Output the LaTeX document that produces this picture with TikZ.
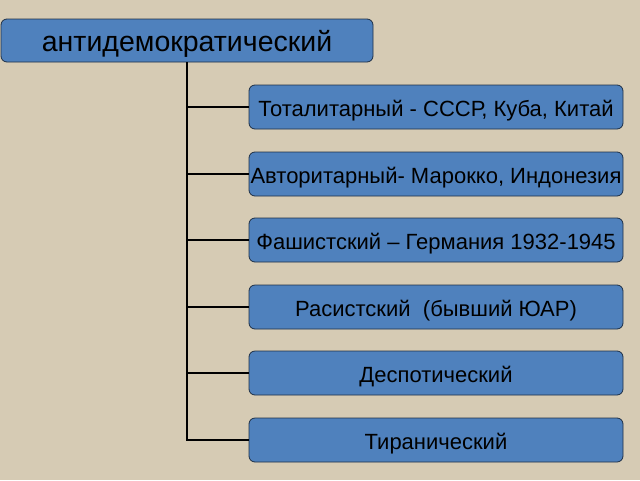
\documentclass[tikz,border=0pt]{standalone}
\usepackage{fontspec}
\setmainfont{Liberation Sans}
\definecolor{paper}{RGB}{214,203,180}
\definecolor{boxblue}{RGB}{79,129,189}
\definecolor{boxline}{RGB}{30,48,70}
\tikzset{
  head/.style={draw=boxline,fill=boxblue,rounded corners=6pt,line width=0.8pt,
    minimum width=372pt,minimum height=43pt,inner sep=0pt,
    text height=28pt,text depth=6pt,font=\fontsize{28.5}{32}\selectfont},
  kind/.style={draw=boxline,fill=boxblue,rounded corners=6pt,line width=0.8pt,
    minimum width=374pt,minimum height=44pt,inner sep=0pt,
    text height=23pt,text depth=5pt,font=\fontsize{22}{26}\selectfont},
  branch/.style={line width=1.8pt,black}
}
\begin{document}
\begin{tikzpicture}[x=1pt,y=-1pt]
  \fill[paper] (0,0) rectangle (640,480);
  \useasboundingbox (0,0) rectangle (640,480);

  \node[head] (anti) at (187,40.5) {антидемократический};

  \node[kind] (total) at (436,107) {Тоталитарный - СССР, Куба, Китай};
  \node[kind] (auth)  at (436,174) {Авторитарный- Марокко, Индонезия};
  \node[kind] (fasc)  at (436,240) {Фашистский – Германия 1932-1945};
  \node[kind] (rac)   at (436,307) {Расистский~ (бывший ЮАР)};
  \node[kind] (desp)  at (436,373) {Деспотический};
  \node[kind] (tyr)   at (436,440) {Тиранический};

  \draw[branch] (anti.south) |- (total.west);
  \draw[branch] (anti.south) |- (auth.west);
  \draw[branch] (anti.south) |- (fasc.west);
  \draw[branch] (anti.south) |- (rac.west);
  \draw[branch] (anti.south) |- (desp.west);
  \draw[branch] (anti.south) |- (tyr.west);
\end{tikzpicture}
\end{document}
